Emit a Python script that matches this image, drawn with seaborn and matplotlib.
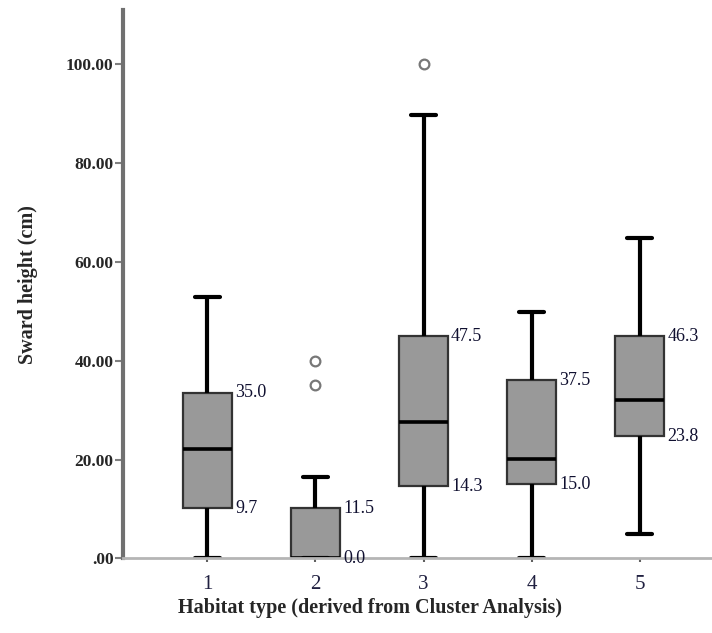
import matplotlib
matplotlib.use("Agg")
import matplotlib.pyplot as plt
import seaborn as sns
import pandas as pd

# Data (sample values reproducing the box statistics)
habitat = ["1", "2", "3", "4", "5"]
g1 = [0, 10.1, 22.1, 33.5, 53]
g2 = [0, 0, 0, 0, 0, 0, 0, 5, 8, 10.1, 16.4, 35, 40]
g3 = [0, 7, 14.6, 20, 27.6, 35, 45, 89.7, 100]
g4 = [0, 15, 20.1, 36.1, 49.9]
g5 = [5, 24.7, 32, 45, 64.9]
q3_labels = ["35.0", "11.5", "47.5", "37.5", "46.3"]
q1_labels = ["9.7", "0.0", "14.3", "15.0", "23.8"]
q3_pos = [33.5, 10.1, 45, 36.1, 45]
q1_pos = [10.1, 0.0, 14.6, 15, 24.7]
yticks = [0, 20, 40, 60, 80, 100]
ytick_labels = [".00", "20.00", "40.00", "60.00", "80.00", "100.00"]

groups = [g1, g2, g3, g4, g5]
df = pd.DataFrame({
    "habitat": sum([[h] * len(g) for h, g in zip(habitat, groups)], []),
    "height": sum(groups, []),
})

sns.set_style("white")
plt.rcParams["font.family"] = ["Liberation Serif", "DejaVu Serif"]

fig = plt.figure(figsize=(7.12, 6.33), dpi=100)
ax = fig.add_axes([0.173, 0.118, 0.827, 0.866])

sns.boxplot(
    data=df, x="habitat", y="height", ax=ax, order=habitat,
    color="#999999", saturation=1, width=0.46, whis=1.5,
    boxprops=dict(edgecolor="#333333", linewidth=1.6),
    medianprops=dict(color="black", linewidth=2.6),
    whiskerprops=dict(color="black", linewidth=3),
    capprops=dict(color="black", linewidth=3),
    flierprops=dict(marker="o", markersize=7, markerfacecolor="white",
                    markeredgecolor="#777777", markeredgewidth=1.6),
)

for i in range(len(habitat)):
    ax.text(i + 0.255, q3_pos[i], q3_labels[i], ha="left", va="center",
            fontsize=13, color="#101030")
    ax.text(i + 0.255, q1_pos[i], q1_labels[i], ha="left", va="center",
            fontsize=13, color="#101030")

ax.set_xlim(-0.78, 4.67)
ax.set_ylim(0, 111)
ax.set_yticks(yticks)
ax.set_yticklabels(ytick_labels, fontsize=12.5, fontweight="bold")
ax.tick_params(axis="y", which="both", left=True, length=6, width=1.5,
               color="#808080", pad=1)
ax.tick_params(axis="x", bottom=True, length=3, width=1.5, color="#606060",
               labelsize=15, labelcolor="#202040", pad=9)

for s in ["top", "right"]:
    ax.spines[s].set_visible(False)
ax.spines["left"].set_color("#707070")
ax.spines["left"].set_linewidth(3)
ax.spines["bottom"].set_color("#b5b5b5")
ax.spines["bottom"].set_linewidth(2)

ax.set_ylabel("Sward height (cm)", fontsize=14.5, fontweight="bold")
ax.set_xlabel("Habitat type (derived from Cluster Analysis)", fontsize=14.5,
              fontweight="bold")
ax.yaxis.set_label_coords(-0.145, 0.5)
ax.xaxis.set_label_coords(0.42, -0.072)

fig.savefig("out.png", dpi=100)
